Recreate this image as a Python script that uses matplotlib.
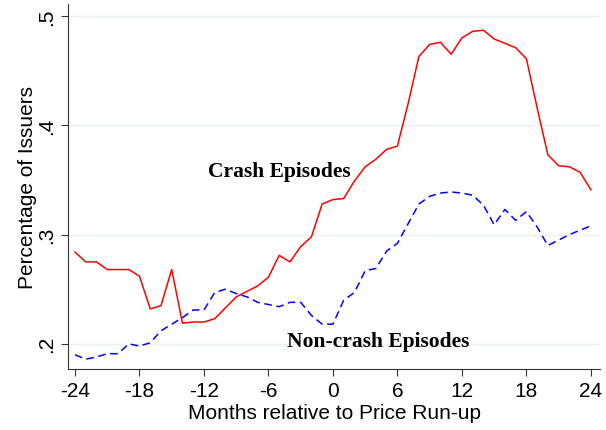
import numpy as np
import matplotlib.pyplot as plt

months = list(range(-24, 25))

crash = [0.284, 0.275, 0.275, 0.268, 0.268, 0.268, 0.262, 0.232, 0.235, 0.268,
         0.219, 0.220, 0.220, 0.223, 0.233, 0.243, 0.248, 0.253, 0.261, 0.281,
         0.275, 0.289, 0.298, 0.328, 0.332, 0.333, 0.349, 0.362, 0.369, 0.378,
         0.381, 0.420, 0.463, 0.474, 0.476, 0.465, 0.480, 0.486, 0.487, 0.479,
         0.475, 0.471, 0.461, 0.416, 0.373, 0.363, 0.362, 0.357, 0.341]

noncrash = [0.190, 0.186, 0.188, 0.191, 0.191, 0.200, 0.198, 0.201, 0.212, 0.218,
            0.224, 0.231, 0.231, 0.247, 0.250, 0.246, 0.243, 0.238, 0.236, 0.234,
            0.238, 0.238, 0.226, 0.218, 0.218, 0.240, 0.247, 0.267, 0.269, 0.285,
            0.292, 0.310, 0.328, 0.335, 0.338, 0.339, 0.338, 0.336, 0.327, 0.309,
            0.323, 0.313, 0.321, 0.307, 0.290, 0.295, 0.300, 0.304, 0.308]

xticks = [-24, -18, -12, -6, 0, 6, 12, 18, 24]
yticks = [0.2, 0.3, 0.4, 0.5]
ylabels = ['.2', '.3', '.4', '.5']

plt.rcParams['font.family'] = ['Liberation Sans', 'DejaVu Sans']

fig = plt.figure(figsize=(6.06, 4.31), dpi=100)
ax = fig.add_axes([68 / 606, 1 - 370 / 431, 532 / 606, 365 / 431])

for y in yticks:
    ax.axhline(y, color='#eaf2f3', lw=1, zorder=0)

ax.plot(months, crash, color='red', lw=1.1)
ax.plot(months, noncrash, color='blue', lw=1.1, linestyle=(0, (5, 3)))

ax.set_xlim(-24.65, 24.85)
ax.set_ylim(0.177, 0.511)
ax.set_xticks(xticks)
ax.set_xticklabels([str(t) for t in xticks], fontsize=15)
ax.set_yticks(yticks)
ax.set_yticklabels(ylabels, fontsize=15, rotation=90, va='center')
ax.tick_params(direction='out', length=5, width=0.8, color='#333333')

for side in ['top', 'right']:
    ax.spines[side].set_visible(False)
for side in ['left', 'bottom']:
    ax.spines[side].set_color('#333333')
    ax.spines[side].set_linewidth(0.8)

ax.set_xlabel('Months relative to Price Run-up', fontsize=15, labelpad=2)
ax.set_ylabel('Percentage of Issuers', fontsize=15, labelpad=0)

ax.text(-5.0, 0.358, 'Crash Episodes', family='Liberation Serif',
        fontweight='bold', fontsize=15.5, ha='center', va='center')
ax.text(4.2, 0.203, 'Non-crash Episodes', family='Liberation Serif',
        fontweight='bold', fontsize=15.5, ha='center', va='center')

fig.savefig('out.png', dpi=100)
